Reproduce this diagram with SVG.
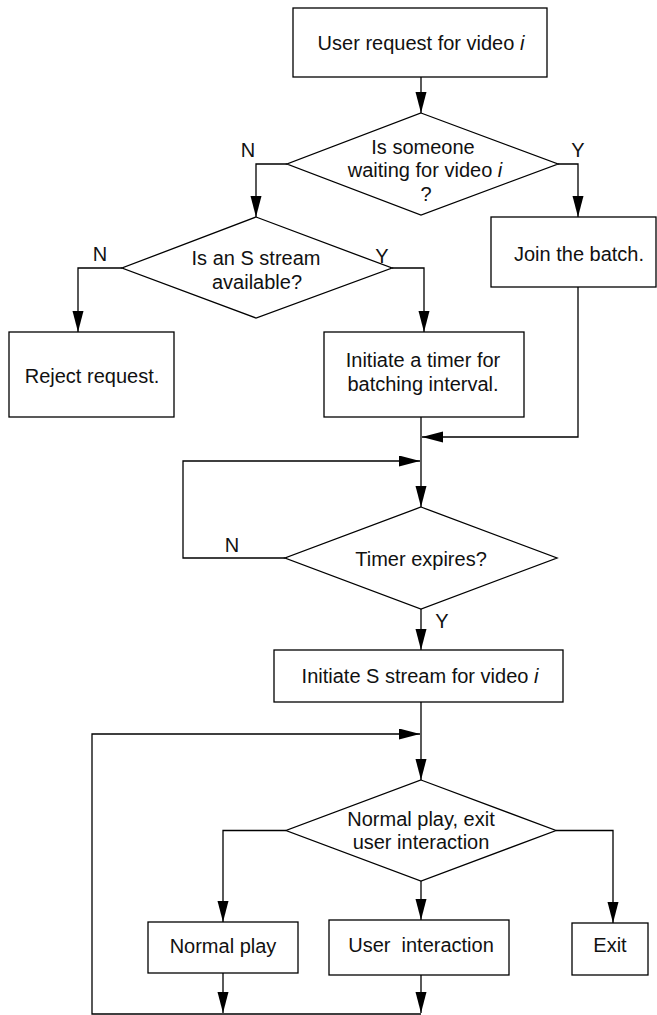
<svg xmlns="http://www.w3.org/2000/svg" width="657" height="1015" viewBox="0 0 657 1015">
  <style>
    .shape { fill: #ffffff; stroke: #000000; stroke-width: 1.3; }
    .link { fill: none; stroke: #000000; stroke-width: 1.3; }
    text { font-family: "Liberation Sans", Arial, sans-serif; font-size: 20px; fill: #111111; }
    .c { text-anchor: middle; }
    .it { font-style: italic; }
  </style>
  <defs>
    <marker id="arrow" markerUnits="userSpaceOnUse" markerWidth="22" markerHeight="12" refX="21" refY="5.5" orient="auto">
      <path d="M0,0 L21,5.5 L0,11 Z" fill="#000000"/>
    </marker>
  </defs>
  <rect width="657" height="1015" fill="#ffffff"/>

  <!-- connectors -->
  <g id="connectors">
    <path class="link" d="M421,77 V113" marker-end="url(#arrow)"/>
    <path class="link" d="M287,164 H256 V217" marker-end="url(#arrow)"/>
    <path class="link" d="M558,164 H578 V217" marker-end="url(#arrow)"/>
    <path class="link" d="M122,268 H78 V332" marker-end="url(#arrow)"/>
    <path class="link" d="M392,268 H424 V332" marker-end="url(#arrow)"/>
    <path class="link" d="M578,287 V437 H422" marker-end="url(#arrow)"/>
    <path class="link" d="M421,417 V507" marker-end="url(#arrow)"/>
    <path class="link" d="M285,558 H183 V461 H420" marker-end="url(#arrow)"/>
    <path class="link" d="M421,609 V650" marker-end="url(#arrow)"/>
    <path class="link" d="M421,702 V780" marker-end="url(#arrow)"/>
    <path class="link" d="M286,830.5 H223 V922" marker-end="url(#arrow)"/>
    <path class="link" d="M421,881 V920" marker-end="url(#arrow)"/>
    <path class="link" d="M556,830.5 H613 V923" marker-end="url(#arrow)"/>
    <path class="link" d="M223,973 V1013" marker-end="url(#arrow)"/>
    <path class="link" d="M421,975 V1013" marker-end="url(#arrow)"/>
    <path class="link" d="M421,1014 H92 V734 H420" marker-end="url(#arrow)"/>
    <!-- branch labels -->
    <text x="248" y="157" class="c">N</text>
    <text x="578" y="157" class="c">Y</text>
    <text x="100" y="261" class="c">N</text>
    <text x="382" y="263" class="c">Y</text>
    <text x="232" y="552" class="c">N</text>
    <text x="442" y="628" class="c">Y</text>
  </g>

  <g id="request">
    <rect class="shape" x="293" y="8" width="254" height="69"/>
    <text x="421" y="50" class="c">User request for video <tspan class="it">i</tspan></text>
  </g>

  <g id="someone-waiting">
    <polygon class="shape" points="421,113 558,164 421,215 287,164"/>
    <text x="423" y="154" class="c">Is someone</text>
    <text x="425" y="177" class="c">waiting for video <tspan class="it">i</tspan></text>
    <text x="426" y="201" class="c">?</text>
  </g>

  <g id="stream-available">
    <polygon class="shape" points="256,217 392,268 256,318 122,268"/>
    <text x="256" y="265" class="c">Is an S stream</text>
    <text x="257" y="289" class="c">available?</text>
  </g>

  <g id="join-batch">
    <rect class="shape" x="491" y="217" width="165" height="70"/>
    <text x="579" y="261" class="c">Join the batch.</text>
  </g>

  <g id="reject">
    <rect class="shape" x="9" y="332" width="165" height="85"/>
    <text x="92" y="383" class="c">Reject request.</text>
  </g>

  <g id="start-timer">
    <rect class="shape" x="324" y="332" width="200" height="85"/>
    <text x="423" y="367" class="c">Initiate a timer for</text>
    <text x="423" y="391" class="c">batching interval.</text>
  </g>

  <g id="timer-expires">
    <polygon class="shape" points="421,507 557,558 421,609 285,558"/>
    <text x="421" y="566" class="c">Timer expires?</text>
  </g>

  <g id="start-stream">
    <rect class="shape" x="274" y="650" width="289" height="52"/>
    <text x="420" y="683" class="c">Initiate S stream for video <tspan class="it">i</tspan></text>
  </g>

  <g id="choice">
    <polygon class="shape" points="421,780 556,830.5 421,881 286,830.5"/>
    <text x="421" y="826" class="c">Normal play, exit</text>
    <text x="421" y="849" class="c">user interaction</text>
  </g>

  <g id="normal-play">
    <rect class="shape" x="148" y="922" width="150" height="51"/>
    <text x="223" y="953" class="c">Normal play</text>
  </g>

  <g id="user-interaction">
    <rect class="shape" x="329" y="920" width="180" height="55"/>
    <text x="421" y="952" class="c" xml:space="preserve">User  interaction</text>
  </g>

  <g id="exit">
    <rect class="shape" x="572" y="923" width="76" height="52"/>
    <text x="610" y="952" class="c">Exit</text>
  </g>
</svg>
